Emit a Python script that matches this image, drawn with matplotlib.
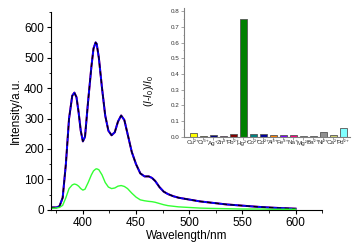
import numpy as np
import matplotlib.pyplot as plt
from matplotlib.ticker import MultipleLocator

# espectros de emision (Intensidad vs longitud de onda)
wl = [370, 375, 378, 381, 384, 387, 390, 392, 394, 396, 398, 400, 402, 405, 408,
      410, 412, 413, 415, 418, 421, 424, 427, 430, 433, 436, 439, 442, 446, 450,
      454, 458, 462, 465, 468, 472, 476, 480, 485, 490, 500, 510, 520, 535, 550,
      565, 580, 600]
iones = [8, 8, 12, 40, 150, 300, 375, 385, 370, 320, 260, 225, 240, 360, 470,
         530, 550, 545, 500, 400, 310, 260, 245, 255, 290, 310, 295, 250, 190, 150,
         120, 110, 110, 105, 95, 75, 60, 52, 45, 40, 34, 28, 24, 18, 14,
         10, 7, 4]
hg = [5, 6, 8, 15, 40, 70, 82, 85, 83, 78, 70, 65, 68, 90, 115,
      128, 134, 135, 132, 115, 90, 75, 70, 72, 78, 80, 77, 70, 55, 42,
      33, 30, 28, 27, 25, 21, 17, 14, 12, 10, 8, 6, 5, 4, 3,
      3, 2, 2]

# inset: (I-I0)/I0
cationes = ['Cu²⁺', 'Cr³⁺', 'Ag⁺', 'Zn²⁺', 'Pb²⁺', 'Hg²⁺', 'Co²⁺', 'Cd²⁺',
            'Al³⁺', 'Fe³⁺', 'Na⁺', 'Mg²⁺', 'Ba²⁺', 'Ni²⁺', 'Ca²⁺', 'Pd²⁺']
respuesta = [0.025, 0.008, 0.01, 0.007, 0.017, 0.75, 0.02, 0.02, 0.012, 0.012,
             0.015, 0.003, 0.008, 0.032, 0.012, 0.055]
colores = ['#ffff00', '#808000', '#000080', '#800080', '#800000', '#008000',
           '#008080', '#000099', '#ff8000', '#8000ff', '#ff0080', '#ffffff',
           '#c0c0c0', '#909090', '#d0d070', '#80ffff']

plt.rcParams['font.family'] = ['Liberation Sans', 'DejaVu Sans']
plt.rcParams['mathtext.fontset'] = 'custom'
plt.rcParams['mathtext.rm'] = 'Liberation Sans'
plt.rcParams['mathtext.it'] = 'Liberation Sans:italic'
fig = plt.figure(figsize=(3.54, 2.49), dpi=100)

ax = fig.add_axes([0.144, 0.157, 0.766, 0.795])
ax.plot(wl, iones, color='red', lw=1.4)
ax.plot(wl, iones, color='blue', lw=1.4)
ax.plot(wl, iones, color='black', lw=0.8, ls=(0, (4, 3)))
ax.plot(wl, hg, color='#33ff33', lw=1.0)
ax.set_xlim(370, 625)
ax.set_ylim(0, 650)
ax.xaxis.set_minor_locator(MultipleLocator(25))
ax.yaxis.set_major_locator(MultipleLocator(100))
ax.yaxis.set_minor_locator(MultipleLocator(50))
ax.set_xticks([400, 450, 500, 550, 600])
ax.spines['top'].set_visible(False)
ax.spines['right'].set_visible(False)
ax.tick_params(which='major', length=3, width=0.8, labelsize=8.5, pad=2)
ax.tick_params(which='minor', length=1.8, width=0.6)
ax.set_xlabel('Wavelength/nm', fontsize=8.5, labelpad=1)
ax.set_ylabel('Intensity/a.u.', fontsize=8.5, labelpad=2)

ins = fig.add_axes([0.520, 0.450, 0.469, 0.518])
x = np.arange(len(cationes))
ins.bar(x, respuesta, width=0.7, color=colores, edgecolor='#555555', linewidth=0.6)
ins.set_xlim(-0.9, 15.7)
ins.set_ylim(0, 0.82)
ins.set_xticks(x)
ins.set_xticklabels(cationes, fontsize=2.7)
ins.yaxis.set_major_locator(MultipleLocator(0.1))
ins.yaxis.set_minor_locator(MultipleLocator(0.05))
ins.yaxis.set_major_formatter(plt.FormatStrFormatter('%.1f'))
for s in ['top', 'right']:
    ins.spines[s].set_visible(False)
for s in ['left', 'bottom']:
    ins.spines[s].set_color('#808080')
    ins.spines[s].set_linewidth(0.8)
ins.tick_params(which='major', length=2, width=0.5, labelsize=4.5, pad=1,
                colors='#808080', labelcolor='#333333')
ins.tick_params(axis='x', pad=0.5)
ins.tick_params(which='minor', length=1, width=0.4, colors='#808080')
ins.set_ylabel(r'$(I$-$I_0)/I_0$', fontsize=7.5)
ins.yaxis.set_label_coords(-0.17, 0.36)

fig.savefig('out.png', dpi=100)
